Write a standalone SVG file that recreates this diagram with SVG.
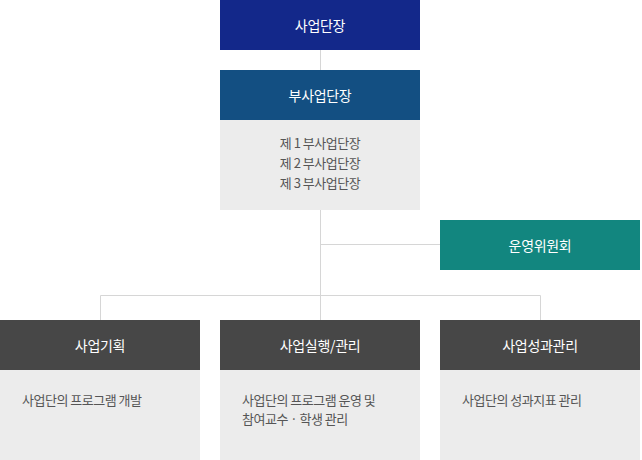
<svg xmlns="http://www.w3.org/2000/svg" width="642" height="460" viewBox="0 0 642 460">
<style>
text{font-family:"Noto Sans CJK KR","Noto Sans",sans-serif;}
.h{fill:#ffffff;font-size:14px;text-anchor:middle;dominant-baseline:central;letter-spacing:-0.3px;}
.b{fill:#555555;font-size:13px;letter-spacing:-0.5px;}
.bc{fill:#555555;font-size:13px;letter-spacing:-0.5px;text-anchor:middle;}
.body{fill:#ececec;}
.dark{fill:#474747;}
.ln{stroke:#d6d6d6;stroke-width:1;fill:none;}
</style>
<rect width="642" height="460" fill="#ffffff"/>
<g id="connectors">
<path class="ln" d="M320.5 50V70"/>
<path class="ln" d="M320.5 210V320"/>
<path class="ln" d="M320 244.5H440"/>
<path class="ln" d="M100.5 320V295.5H540.5V320"/>
</g>
<g id="director">
<rect x="220" y="0" width="200" height="50" fill="#13288a"/>
<text class="h" x="320" y="25">사업단장</text>
</g>
<g id="vice-director">
<rect x="220" y="70" width="200" height="50" fill="#134f82"/>
<text class="h" x="320" y="95">부사업단장</text>
<rect class="body" x="220" y="120" width="200" height="90"/>
<text class="bc" x="320" y="148">제 1 부사업단장</text>
<text class="bc" x="320" y="168">제 2 부사업단장</text>
<text class="bc" x="320" y="188">제 3 부사업단장</text>
</g>
<g id="committee">
<rect x="440" y="220" width="200" height="50" fill="#12867f"/>
<text class="h" x="540" y="245">운영위원회</text>
</g>
<g id="planning">
<rect class="dark" x="0" y="320" width="200" height="50"/>
<text class="h" x="100" y="345">사업기획</text>
<rect class="body" x="0" y="370" width="200" height="90"/>
<text class="b" x="22" y="405">사업단의 프로그램 개발</text>
</g>
<g id="execution">
<rect class="dark" x="220" y="320" width="200" height="50"/>
<text class="h" x="320" y="345">사업실행/관리</text>
<rect class="body" x="220" y="370" width="200" height="90"/>
<text class="b" x="242" y="405">사업단의 프로그램 운영 및</text>
<text class="b" x="242" y="424">참여교수 · 학생 관리</text>
</g>
<g id="performance">
<rect class="dark" x="440" y="320" width="200" height="50"/>
<text class="h" x="540" y="345">사업성과관리</text>
<rect class="body" x="440" y="370" width="200" height="90"/>
<text class="b" x="462" y="405">사업단의 성과지표 관리</text>
</g>
</svg>
